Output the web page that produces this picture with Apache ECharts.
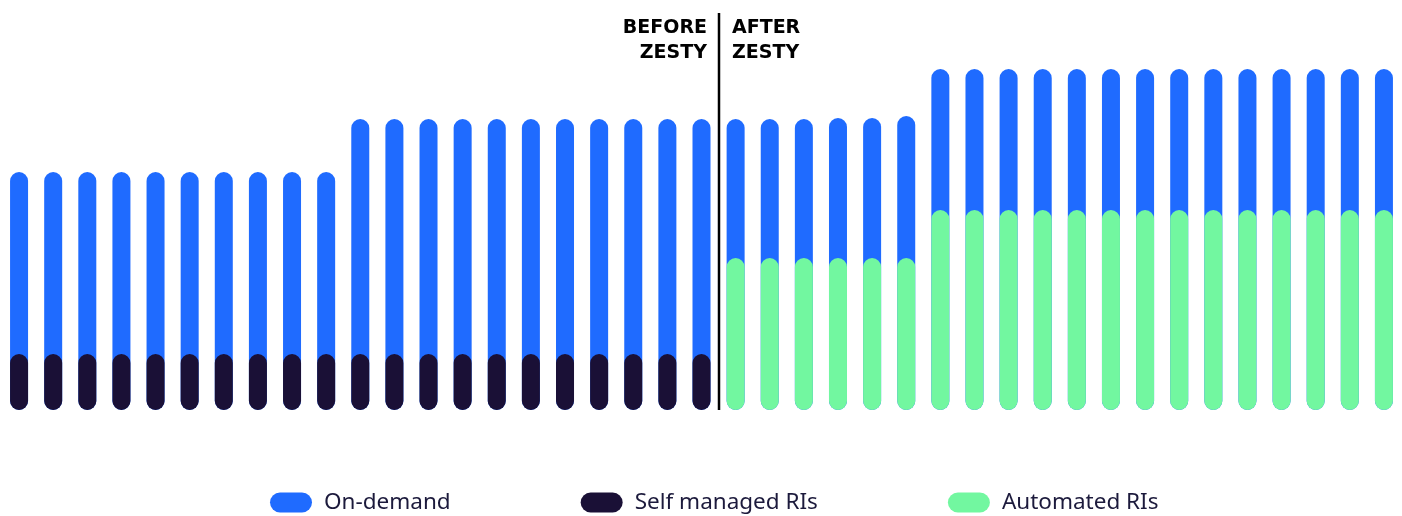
<!DOCTYPE html>
<html>
<head>
<meta charset="utf-8">
<script src="https://cdn.jsdelivr.net/npm/echarts@6/dist/echarts.min.js"></script>
<style>
  html, body { margin: 0; padding: 0; background: #fff; }
  #chart { width: 1402px; height: 516px; }
</style>
</head>
<body>
<div id="chart"></div>
<script>
// periods (no labels shown on the chart)
var periods = ['P1','P2','P3','P4','P5','P6','P7','P8','P9','P10',
  'P11','P12','P13','P14','P15','P16','P17','P18','P19','P20','P21',
  'P22','P23','P24','P25','P26','P27','P28','P29','P30','P31',
  'P32','P33','P34','P35','P36','P37','P38','P39','P40','P41'];

// total height of each bar (on-demand sits behind the RI part)
var onDemand = [238,238,238,238,238,238,238,238,238,238,
  291,291,291,291,291,291,291,291,291,291,291,
  291,291,291,292,292,294,
  341,341,341,341,341,341,341,341,341,341,341,341,341,341];

// self managed reserved instances (before zesty)
var selfManaged = [56,56,56,56,56,56,56,56,56,56,
  56,56,56,56,56,56,56,56,56,56,56,
  '-','-','-','-','-','-',
  '-','-','-','-','-','-','-','-','-','-','-','-','-','-'];

// automated reserved instances (after zesty)
var automated = ['-','-','-','-','-','-','-','-','-','-',
  '-','-','-','-','-','-','-','-','-','-','-',
  152,152,152,152,152,152,
  200,200,200,200,200,200,200,200,200,200,200,200,200,200];

var lastBefore = 20; // index of last bar before zesty

var BLUE = '#1f6bff';
var NAVY = '#1a1036';
var GREEN = '#72f7a0';
var pill = 'path://M10,0 H32 A10,10 0 0 1 32,20 H10 A10,10 0 0 1 10,0 Z';

var chart = echarts.init(document.getElementById('chart'));

chart.setOption({
  animation: false,
  backgroundColor: '#ffffff',
  grid: { left: 2, right: 1, top: 0, bottom: 106 },
  xAxis: {
    type: 'category',
    data: periods,
    axisLine: { show: false },
    axisTick: { show: false },
    axisLabel: { show: false }
  },
  yAxis: {
    type: 'value',
    min: 0,
    max: 410,
    show: false,
    splitLine: { show: false }
  },
  legend: {
    left: 270,
    top: 491,
    padding: 0,
    itemWidth: 42,
    itemHeight: 20,
    itemGap: 130,
    icon: pill,
    textStyle: {
      fontFamily: 'Noto Sans',
      fontSize: 22.5,
      color: '#1c1a3c',
      padding: [0, 0, 0, 7]
    },
    data: ['On-demand', 'Self managed RIs', 'Automated RIs']
  },
  series: [{
    name: 'On-demand',
    type: 'bar',
    data: onDemand,
    barWidth: 18,
    barGap: '-100%',
    itemStyle: { color: BLUE, borderRadius: 9 }
  }, {
    name: 'Self managed RIs',
    type: 'bar',
    data: selfManaged,
    barWidth: 18,
    barGap: '-100%',
    itemStyle: { color: NAVY, borderRadius: 9 }
  }, {
    name: 'Automated RIs',
    type: 'bar',
    data: automated,
    barWidth: 18,
    barGap: '-100%',
    itemStyle: { color: GREEN, borderRadius: 9 }
  }]
});

// divider between before / after
var xa = chart.convertToPixel({ xAxisIndex: 0 }, lastBefore);
var xb = chart.convertToPixel({ xAxisIndex: 0 }, lastBefore + 1);
var xm = Math.round((xa + xb) / 2);
var yBase = chart.convertToPixel({ yAxisIndex: 0 }, 0);

chart.setOption({
  graphic: [{
    type: 'line',
    shape: { x1: xm, y1: 13, x2: xm, y2: yBase },
    style: { stroke: '#000000', lineWidth: 2.5 }
  }, {
    type: 'text',
    x: xm - 12,
    y: 16,
    style: {
      text: 'BEFORE\nZESTY',
      align: 'right',
      verticalAlign: 'top',
      fontFamily: 'DejaVu Sans',
      fontWeight: 'bold',
      fontSize: 19,
      lineHeight: 24.5,
      fill: '#000000'
    }
  }, {
    type: 'text',
    x: xm + 13,
    y: 16,
    style: {
      text: 'AFTER\nZESTY',
      align: 'left',
      verticalAlign: 'top',
      fontFamily: 'DejaVu Sans',
      fontWeight: 'bold',
      fontSize: 19,
      lineHeight: 24.5,
      fill: '#000000'
    }
  }]
});
</script>
</body>
</html>
